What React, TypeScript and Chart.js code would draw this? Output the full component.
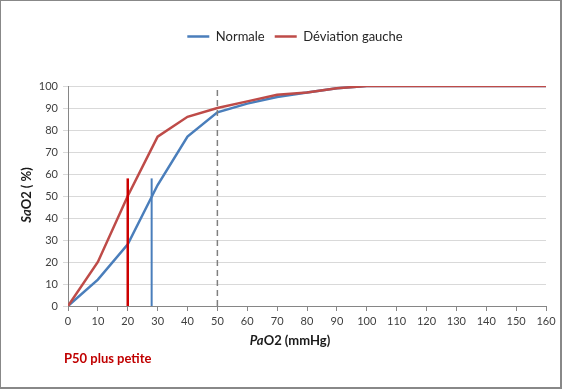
import React, { useEffect, useRef } from "react";
import { Chart, registerables } from "chart.js";

Chart.register(...registerables);

// ---- Data ----
const pao2 = [0, 10, 20, 30, 40, 50, 60, 70, 80, 90, 100, 110, 120, 130, 140, 150, 160];
const normale = [0, 12, 28, 55, 77, 88, 92, 95, 97, 99, 100, 100, 100, 100, 100, 100, 100];
const deviationGauche = [0, 20, 50, 77, 86, 90, 93, 96, 97, 99, 100, 100, 100, 100, 100, 100, 100];
const p50Normale = 28;
const p50Deviation = 20;
const p50MarkerTop = 58;
const refPaO2 = 50;
const seriesLabels = ["Normale", "Déviation gauche"];
const noteText = "P50 plus petite";
const yTitleParts = [
  { text: "Sa", italic: true },
  { text: "O2 ( %)", italic: false },
];
const xTitleParts = [
  { text: "Pa", italic: true },
  { text: "O2 (mmHg)", italic: false },
];

const FONT = "Lato, 'Open Sans', 'DejaVu Sans', sans-serif";

type Part = { text: string; italic: boolean };

function drawRich(ctx: CanvasRenderingContext2D, parts: Part[], size: number) {
  const fontOf = (p: Part) => `${p.italic ? "italic " : ""}bold ${size}px ${FONT}`;
  let total = 0;
  for (const p of parts) {
    ctx.font = fontOf(p);
    total += ctx.measureText(p.text).width;
  }
  let x = -total / 2;
  for (const p of parts) {
    ctx.font = fontOf(p);
    ctx.fillText(p.text, x, 0);
    x += ctx.measureText(p.text).width;
  }
}

const decorPlugin = {
  id: "decor",
  beforeInit(chart: any) {
    const legend = chart.legend;
    if (legend) {
      const origFit = legend.fit;
      legend.fit = function () {
        origFit.call(this);
        this.height += 33;
      };
      const origDraw = legend.draw;
      legend.draw = function (...args: any[]) {
        const c = this.ctx;
        c.save();
        c.translate(18, 0);
        origDraw.apply(this, args);
        c.restore();
      };
    }
  },
  afterDraw(chart: any) {
    const ctx: CanvasRenderingContext2D = chart.ctx;
    const W = chart.width;
    const H = chart.height;
    ctx.save();
    // frame
    ctx.fillStyle = "#888888";
    ctx.fillRect(0, 0, W, 1);
    ctx.fillRect(0, 0, 1, H);
    ctx.fillRect(W - 2, 0, 2, H);
    ctx.fillRect(0, H - 2, W, 2);

    ctx.fillStyle = "#1a1a1a";
    ctx.textBaseline = "middle";
    ctx.textAlign = "left";
    // x title
    ctx.save();
    ctx.translate(290, 341);
    drawRich(ctx, xTitleParts, 13);
    ctx.restore();
    // y title
    ctx.save();
    ctx.translate(27, 195);
    ctx.rotate(-Math.PI / 2);
    drawRich(ctx, yTitleParts, 13);
    ctx.restore();
    // note
    ctx.fillStyle = "#C00000";
    ctx.font = `bold 13px ${FONT}`;
    ctx.fillText(noteText, 64, 359);
    ctx.restore();
  },
};

export default function App() {
  const ref = useRef<HTMLCanvasElement>(null);
  useEffect(() => {
    document.body.style.margin = "0";
    if (!ref.current) return;
    Chart.defaults.font.family = FONT;
    const chart = new Chart(ref.current, {
      type: "line",
      data: {
        datasets: [
          {
            label: seriesLabels[0],
            data: pao2.map((x, i) => ({ x, y: normale[i] })),
            borderColor: "#4A7EBB",
            backgroundColor: "#4A7EBB",
            borderWidth: 2.5,
            pointRadius: 0,
            tension: 0,
            order: 4,
          },
          {
            label: seriesLabels[1],
            data: pao2.map((x, i) => ({ x, y: deviationGauche[i] })),
            borderColor: "#BE4B48",
            backgroundColor: "#BE4B48",
            borderWidth: 2.5,
            pointRadius: 0,
            tension: 0,
            order: 3,
          },
          {
            label: "p50n",
            data: [
              { x: p50Normale, y: 0 },
              { x: p50Normale, y: p50MarkerTop },
            ],
            borderColor: "#4A7EBB",
            borderWidth: 2,
            pointRadius: 0,
            order: 2,
          },
          {
            label: "p50d",
            data: [
              { x: p50Deviation, y: 0 },
              { x: p50Deviation, y: p50MarkerTop },
            ],
            borderColor: "#CC0000",
            borderWidth: 2.5,
            pointRadius: 0,
            order: 1,
          },
          {
            label: "ref",
            data: [
              { x: refPaO2, y: 0 },
              { x: refPaO2, y: 100 },
            ],
            borderColor: "#7F7F7F",
            borderWidth: 1.5,
            borderDash: [6, 4],
            pointRadius: 0,
            order: 0,
          },
        ],
      },
      options: {
        animation: false,
        responsive: false,
        maintainAspectRatio: false,
        layout: { padding: { left: 8, right: 16, top: 20, bottom: 59 } },
        plugins: {
          tooltip: { enabled: false },
          legend: {
            display: true,
            position: "top",
            labels: {
              usePointStyle: true,
              pointStyle: "line",
              pointStyleWidth: 22,
              color: "#262626",
              font: { size: 13, family: FONT },
              padding: 10,
              filter: (item: any) => item.datasetIndex < 2,
              sort: (a: any, b: any) => a.datasetIndex - b.datasetIndex,
            },
          },
        },
        scales: {
          x: {
            type: "linear",
            min: 0,
            max: 160,
            afterFit: (s: any) => {
              s.height = 24;
            },
            ticks: {
              stepSize: 10,
              color: "#404040",
              font: { size: 11, family: FONT },
              maxRotation: 0,
              autoSkip: false,
              padding: 4,
            },
            grid: {
              display: true,
              drawOnChartArea: false,
              drawTicks: true,
              tickLength: 5,
              color: "#868686",
            },
            border: { color: "#868686", width: 1 },
          },
          y: {
            min: 0,
            max: 100,
            afterFit: (s: any) => {
              s.width = 60;
            },
            ticks: {
              stepSize: 10,
              color: "#404040",
              font: { size: 11, family: FONT },
              padding: 5,
            },
            grid: {
              color: "#D9D9D9",
              lineWidth: 1,
              tickLength: 5,
            },
            border: { color: "#868686", width: 1 },
          },
        },
      },
      plugins: [decorPlugin],
    } as any);
    return () => chart.destroy();
  }, []);
  return (
    <div style={{ width: 562, height: 389, position: "relative" }}>
      <canvas ref={ref} width={562} height={389} style={{ display: "block", width: 562, height: 389 }} />
    </div>
  );
}
